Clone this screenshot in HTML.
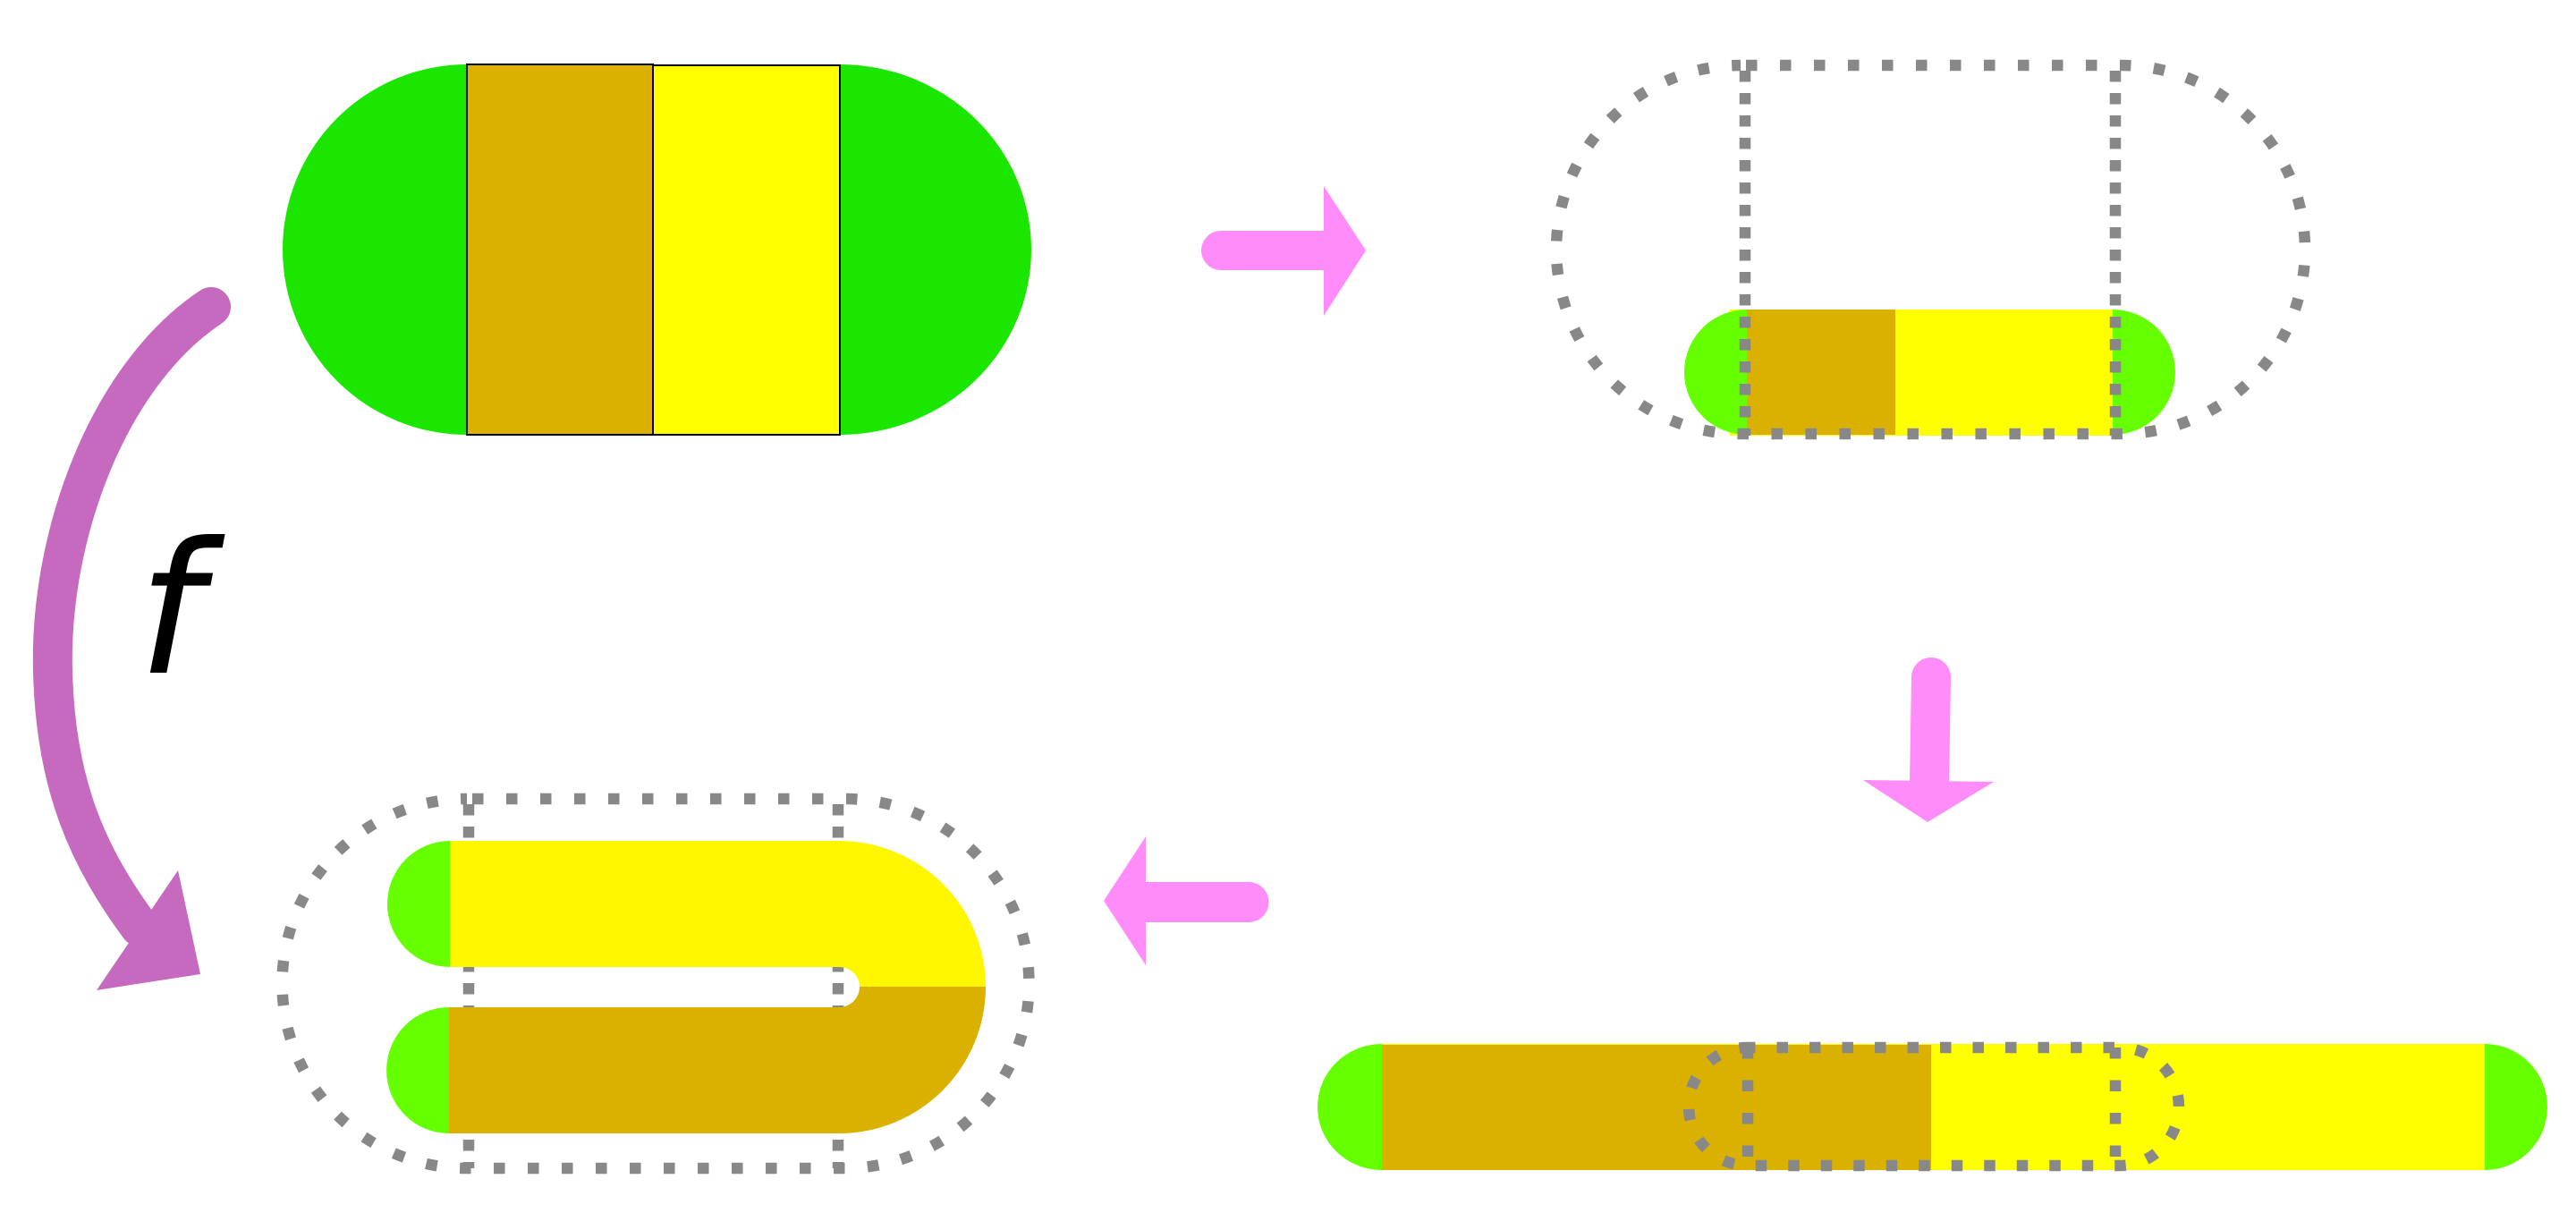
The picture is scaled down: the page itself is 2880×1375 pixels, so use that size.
<!DOCTYPE html>
<html>
<head>
<meta charset="utf-8">
<style>
  html, body { margin: 0; padding: 0; background: #ffffff; }
  body { width: 2880px; height: 1375px; overflow: hidden; }
  svg { display: block; }
</style>
</head>
<body>
<svg width="2880" height="1375" viewBox="0 0 2880 1375" xmlns="http://www.w3.org/2000/svg">
  <rect x="0" y="0" width="2880" height="1375" fill="#ffffff"/>

  <!-- ===== Top-left: pill with two bands ===== -->
  <ellipse cx="522" cy="279" rx="206" ry="207" fill="#1ae600"/>
  <ellipse cx="939" cy="279" rx="214" ry="207" fill="#1ae600"/>
  <rect x="522" y="72" width="208" height="414" fill="#dab100" stroke="#000" stroke-width="2"/>
  <rect x="730" y="73" width="209" height="413" fill="#ffff00" stroke="#000" stroke-width="2"/>

  <!-- ===== Right arrow ===== -->
  <g fill="#ff8cf8">
    <path d="M 1365 258 H 1482 V 302 H 1365 A 22 22 0 0 1 1365 258 Z"/>
    <polygon points="1480,208 1527,280 1480,353"/>
  </g>

  <!-- ===== Top-right: small pill inside dotted stadium ===== -->
  <rect x="1934" y="346" width="429" height="141" fill="#ffff00"/>
  <rect x="1952" y="346" width="167" height="140" fill="#dab100"/>
  <path d="M 1953 346 A 70 70 0 0 0 1953 486 Z" fill="#66ff00"/>
  <path d="M 2362 346 A 70 70 0 0 1 2362 486 Z" fill="#66ff00"/>
  <g fill="none" stroke="#888888" stroke-width="12.5">
    <path d="M 1946 73 H 2371 A 206 206 0 0 1 2371 485 H 1946 A 206 206 0 0 1 1946 73 Z" stroke-dasharray="12.5 25.5" stroke-dashoffset="32"/>
    <line x1="1951" y1="73" x2="1951" y2="487" stroke-dasharray="12.5 12.5" stroke-dashoffset="19"/>
    <line x1="2365" y1="73" x2="2365" y2="487" stroke-dasharray="12.5 12.5" stroke-dashoffset="19"/>
  </g>

  <!-- ===== Down arrow ===== -->
  <g fill="#ff8cf8">
    <path d="M 2137 757 A 22 22 0 0 1 2181 757 L 2179 876 L 2135 876 Z"/>
    <polygon points="2083,872 2229,874 2155,919"/>
  </g>

  <!-- ===== Bottom-right: long bar with small dotted stadium ===== -->
  <rect x="1544" y="1167" width="1235" height="141" fill="#ffff00"/>
  <rect x="1544" y="1168" width="615" height="140" fill="#dab100"/>
  <path d="M 1545 1167 A 72 70.5 0 0 0 1545 1308 Z" fill="#66ff00"/>
  <path d="M 2778 1167 A 70 70.5 0 0 1 2778 1308 Z" fill="#66ff00"/>
  <g fill="none" stroke="#888888" stroke-width="12.5">
    <path d="M 1954 1171 H 2370 A 66 66 0 0 1 2370 1303 H 1954 A 66 66 0 0 1 1954 1171 Z" stroke-dasharray="12.5 24" stroke-dashoffset="4"/>
    <line x1="1954" y1="1171" x2="1954" y2="1303" stroke-dasharray="12.5 24" stroke-dashoffset="0"/>
    <line x1="2365" y1="1171" x2="2365" y2="1303" stroke-dasharray="12.5 24" stroke-dashoffset="0"/>
  </g>

  <!-- ===== Left arrow ===== -->
  <g fill="#ff8cf8">
    <path d="M 1279 986 H 1396 A 22.5 22.5 0 0 1 1396 1031 H 1279 Z"/>
    <polygon points="1281,935 1234,1007 1281,1079"/>
  </g>

  <!-- ===== Bottom-left: folded U shape in dotted stadium ===== -->
  <g fill="none" stroke="#888888" stroke-width="12.5">
    <path d="M 522 893 H 944 A 206.5 206.5 0 0 1 944 1306 H 522 A 206.5 206.5 0 0 1 522 893 Z" stroke-dasharray="12.5 25.5" stroke-dashoffset="32"/>
    <line x1="524" y1="893" x2="524" y2="1306" stroke-dasharray="12.5 12.5" stroke-dashoffset="19"/>
    <line x1="937" y1="893" x2="937" y2="1306" stroke-dasharray="12.5 12.5" stroke-dashoffset="19"/>
  </g>
  <path d="M 501 940 H 938 A 164 163 0 0 1 1102 1103 H 961 A 23 22 0 0 0 938 1081 H 501 Z" fill="#fff700"/>
  <path d="M 501 1126 H 938 A 23 23 0 0 0 961 1103 H 1102 A 164 164 0 0 1 938 1267 H 501 Z" fill="#dab100"/>
  <path d="M 503 940 A 70 70.5 0 0 0 503 1081 Z" fill="#66ff00"/>
  <path d="M 502 1126 A 70 70.5 0 0 0 502 1267 Z" fill="#66ff00"/>

  <!-- ===== Curved f arrow ===== -->
  <path d="M 236 343 C 120 420, 55 600, 59 750 C 62 880, 100 960, 156 1036" fill="none" stroke="#c66abf" stroke-width="44" stroke-linecap="round"/>
  <polygon points="199,973 224,1089 108,1107" fill="#c66abf"/>

  <text x="154" y="752" font-family="'DejaVu Sans', 'Liberation Sans', sans-serif" font-style="oblique" font-size="204" fill="#000000">f</text>
</svg>
</body>
</html>
